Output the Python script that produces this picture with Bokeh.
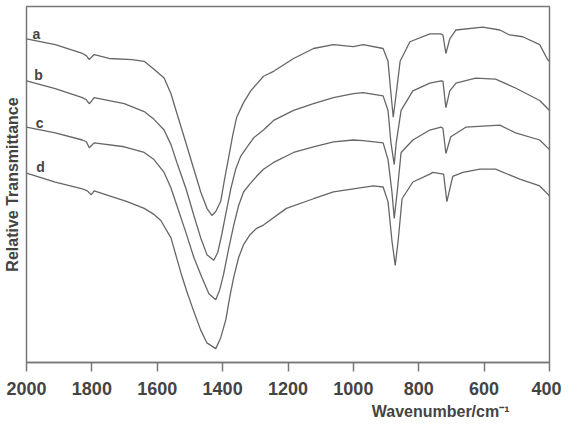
from bokeh.plotting import figure
from bokeh.models import Range1d, FixedTicker, Title, ColumnDataSource
from bokeh.core.properties import value
from bokeh.embed import file_html
from bokeh.resources import INLINE

# Wavenumber (cm-1) and relative transmittance (arbitrary units)
wn_a = [2000, 1912, 1829, 1817, 1808, 1802, 1793, 1747, 1677, 1640, 1610, 1579, 1558, 1540,
        1515, 1488, 1467, 1448, 1433, 1421, 1406, 1394, 1381, 1369, 1357, 1336, 1314, 1296,
        1275, 1244, 1183, 1122, 1061, 1000, 970, 909, 894, 885, 878, 869, 857, 827, 766, 732,
        726, 717, 705, 686, 604, 552, 522, 482, 430, 406, 400]
t_a = [90.9, 89.3, 86.8, 86.2, 85.1, 85.7, 86.5, 85.4, 85.1, 84.6, 82.4, 79.9, 75.5, 70.0,
       62.5, 54.3, 47.9, 43.3, 41.3, 42.4, 45.2, 51.5, 57.9, 63.9, 68.9, 73.0, 76.3, 78.2,
       80.4, 81.8, 85.4, 88.2, 89.3, 88.7, 89.3, 88.2, 84.6, 75.5, 68.9, 75.5, 84.6, 90.1,
       92.3, 92.3, 92.0, 86.8, 90.9, 93.4, 94.2, 93.4, 92.0, 91.5, 89.3, 85.1, 84.6]

wn_b = [2000, 1912, 1829, 1817, 1808, 1802, 1793, 1701, 1640, 1610, 1579, 1558, 1540, 1512,
        1488, 1467, 1448, 1427, 1415, 1403, 1390, 1375, 1360, 1345, 1327, 1305, 1275, 1244,
        1183, 1122, 1061, 1000, 970, 909, 894, 885, 875, 869, 854, 818, 766, 732, 726, 717,
        705, 686, 626, 565, 504, 430, 400]
t_b = [79.1, 76.9, 74.4, 73.8, 72.7, 73.3, 74.4, 72.7, 70.5, 68.3, 65.3, 61.2, 56.2, 48.8,
       41.3, 35.0, 30.3, 28.7, 30.9, 35.8, 41.9, 48.8, 54.3, 57.9, 60.3, 63.1, 65.3, 68.0,
       70.8, 72.7, 74.4, 75.5, 75.8, 74.9, 70.8, 61.7, 55.6, 61.7, 70.8, 76.3, 78.5, 79.1,
       79.0, 71.6, 76.3, 78.5, 79.9, 79.6, 77.1, 73.6, 70.8]

wn_c = [2000, 1912, 1829, 1817, 1808, 1802, 1793, 1701, 1640, 1610, 1579, 1558, 1540, 1512,
        1488, 1464, 1442, 1421, 1409, 1397, 1381, 1366, 1351, 1336, 1317, 1296, 1275, 1244,
        1183, 1122, 1061, 1000, 970, 909, 894, 882, 875, 866, 854, 818, 766, 732, 726, 717,
        702, 656, 552, 504, 430, 400]
t_c = [66.1, 64.5, 62.5, 62.0, 60.3, 60.9, 61.7, 60.6, 59.0, 57.0, 53.4, 49.0, 44.1, 36.4,
       29.5, 24.0, 19.3, 17.6, 20.4, 24.8, 32.2, 38.6, 44.1, 47.9, 50.1, 52.3, 54.3, 56.2,
       59.0, 60.6, 62.0, 62.5, 62.3, 61.7, 57.0, 47.9, 40.5, 47.9, 59.0, 62.5, 65.3, 66.1,
       65.8, 58.7, 63.4, 66.1, 66.7, 64.5, 62.5, 59.8]

wn_d = [2000, 1912, 1829, 1814, 1802, 1793, 1692, 1640, 1610, 1589, 1558, 1528, 1509, 1488,
        1467, 1448, 1421, 1406, 1390, 1378, 1366, 1351, 1336, 1317, 1296, 1275, 1205, 1122,
        1061, 1000, 939, 909, 894, 882, 872, 863, 851, 818, 766, 757, 724, 714, 696, 665, 613,
        565, 491, 430, 400]
t_d = [53.2, 50.7, 48.8, 48.2, 47.1, 48.2, 45.2, 43.3, 41.6, 39.9, 35.0, 25.3, 19.8, 14.3,
       9.1, 5.5, 3.9, 6.9, 12.1, 18.5, 24.0, 29.5, 33.1, 35.8, 37.7, 38.6, 43.3, 46.0, 47.9,
       48.8, 49.6, 49.3, 45.2, 34.2, 27.3, 34.2, 46.0, 50.7, 52.9, 53.4, 52.9, 45.2, 52.3,
       53.4, 54.3, 54.3, 51.5, 49.6, 46.8]

series = [("a", wn_a, t_a), ("b", wn_b, t_b), ("c", wn_c, t_c), ("d", wn_d, t_d)]

label_names = ["a", "b", "c", "d"]
label_wn = [1970, 1963, 1960, 1957]
label_t = [92.3, 80.7, 67.2, 54.8]

x_ticks = [2000, 1800, 1600, 1400, 1200, 1000, 800, 600, 400]

p = figure(width=561, height=422, output_backend="svg", toolbar_location=None,
           x_range=Range1d(2000, 400), y_range=Range1d(0, 100),
           min_border_left=24, min_border_right=12, min_border_top=6, min_border_bottom=53)

p.background_fill_color = "white"
p.border_fill_color = "white"
p.grid.visible = False
p.outline_line_color = "#777777"
p.outline_line_width = 1.5

for name, xs, ys in series:
    p.line(xs, ys, line_color="#666666", line_width=1.3)

src = ColumnDataSource(dict(x=label_wn, y=label_t, t=label_names))
p.text(x="x", y="y", text="t", source=src, text_font=value("Liberation Sans"),
       text_font_size="14px", text_font_style="bold", text_color="#444444",
       text_align="center", text_baseline="middle")

# x axis
xa = p.xaxis[0]
xa.ticker = FixedTicker(ticks=x_ticks)
xa.axis_line_color = "#777777"
xa.axis_line_width = 1.5
xa.major_tick_line_color = "#777777"
xa.major_tick_line_width = 1.5
xa.major_tick_out = 9
xa.major_tick_in = 0
xa.minor_tick_line_color = None
xa.major_label_text_font = "Liberation Sans"
xa.major_label_text_font_size = "18px"
xa.major_label_text_font_style = "bold"
xa.major_label_text_color = "#444444"
xa.major_label_standoff = 10

# y axis: label only
ya = p.yaxis[0]
ya.ticker = FixedTicker(ticks=[])
ya.axis_line_color = None
ya.major_tick_out = 0
ya.major_tick_in = 0
ya.minor_tick_line_color = None
ya.major_label_standoff = 0
ya.axis_label = "Relative Transmittance"
ya.axis_label_standoff = 6
ya.axis_label_text_font = "Liberation Sans"
ya.axis_label_text_font_size = "16px"
ya.axis_label_text_font_style = "bold"
ya.axis_label_text_color = "#444444"

xt = Title(text="Wavenumber/cm\u207b\u00b9", align="right", offset=40,
           text_font="Liberation Sans", text_font_size="16px", text_font_style="bold",
           text_color="#444444", standoff=6)
p.add_layout(xt, "below")

open("out.html", "w").write(file_html(p, INLINE))
